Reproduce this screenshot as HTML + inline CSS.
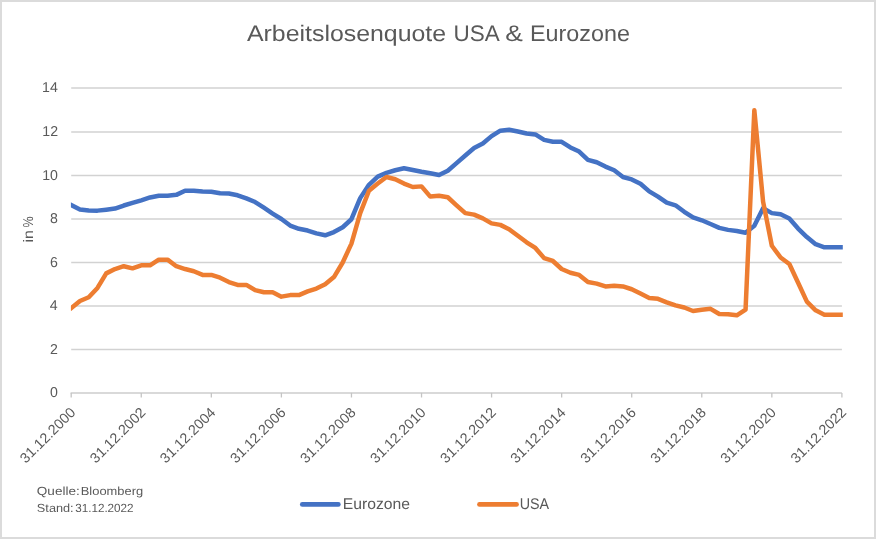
<!DOCTYPE html>
<html><head><meta charset="utf-8"><title>Arbeitslosenquote USA &amp; Eurozone</title>
<style>
html,body{margin:0;padding:0;background:#fff;}
body{width:876px;height:539px;overflow:hidden;font-family:"Liberation Sans",sans-serif;}
svg{display:block;will-change:transform;}
text{font-family:"Liberation Sans",sans-serif;fill:#595959;text-rendering:geometricPrecision;}
</style></head><body>
<svg width="876" height="539" viewBox="0 0 876 539">
<rect x="0" y="0" width="876" height="539" fill="#ffffff"/>
<rect x="1" y="1" width="874" height="537" fill="none" stroke="#DBDBDB" stroke-width="2"/>
<defs><clipPath id="pc"><rect x="70.9" y="60" width="771.9" height="340"/></clipPath></defs>

<line x1="71.2" y1="349.50" x2="841.9" y2="349.50" stroke="#D2D2D2" stroke-width="1.5"/>
<line x1="71.2" y1="306.00" x2="841.9" y2="306.00" stroke="#D2D2D2" stroke-width="1.5"/>
<line x1="71.2" y1="262.50" x2="841.9" y2="262.50" stroke="#D2D2D2" stroke-width="1.5"/>
<line x1="71.2" y1="219.00" x2="841.9" y2="219.00" stroke="#D2D2D2" stroke-width="1.5"/>
<line x1="71.2" y1="175.50" x2="841.9" y2="175.50" stroke="#D2D2D2" stroke-width="1.5"/>
<line x1="71.2" y1="132.00" x2="841.9" y2="132.00" stroke="#D2D2D2" stroke-width="1.5"/>
<line x1="71.2" y1="87.90" x2="841.9" y2="87.90" stroke="#D2D2D2" stroke-width="1.5"/>
<line x1="70.6" y1="392.90" x2="841.9" y2="392.90" stroke="#CDCDCD" stroke-width="1.5"/>
<line x1="71.20" y1="392.90" x2="71.20" y2="397.50" stroke="#C4C4C4" stroke-width="1.3"/>
<line x1="141.26" y1="392.90" x2="141.26" y2="397.50" stroke="#C4C4C4" stroke-width="1.3"/>
<line x1="211.33" y1="392.90" x2="211.33" y2="397.50" stroke="#C4C4C4" stroke-width="1.3"/>
<line x1="281.39" y1="392.90" x2="281.39" y2="397.50" stroke="#C4C4C4" stroke-width="1.3"/>
<line x1="351.45" y1="392.90" x2="351.45" y2="397.50" stroke="#C4C4C4" stroke-width="1.3"/>
<line x1="421.52" y1="392.90" x2="421.52" y2="397.50" stroke="#C4C4C4" stroke-width="1.3"/>
<line x1="491.58" y1="392.90" x2="491.58" y2="397.50" stroke="#C4C4C4" stroke-width="1.3"/>
<line x1="561.65" y1="392.90" x2="561.65" y2="397.50" stroke="#C4C4C4" stroke-width="1.3"/>
<line x1="631.71" y1="392.90" x2="631.71" y2="397.50" stroke="#C4C4C4" stroke-width="1.3"/>
<line x1="701.77" y1="392.90" x2="701.77" y2="397.50" stroke="#C4C4C4" stroke-width="1.3"/>
<line x1="771.84" y1="392.90" x2="771.84" y2="397.50" stroke="#C4C4C4" stroke-width="1.3"/>
<line x1="841.90" y1="392.90" x2="841.90" y2="397.50" stroke="#C4C4C4" stroke-width="1.3"/>
<text transform="translate(49.94,397.20) scale(0.9900,1)" font-size="14.30" xml:space="preserve">0</text>
<text transform="translate(50.08,353.80) scale(0.9900,1)" font-size="14.30" xml:space="preserve">2</text>
<text transform="translate(49.80,310.30) scale(0.9900,1)" font-size="14.30" xml:space="preserve">4</text>
<text transform="translate(50.08,266.80) scale(0.9900,1)" font-size="14.30" xml:space="preserve">6</text>
<text transform="translate(50.08,223.30) scale(0.9900,1)" font-size="14.30" xml:space="preserve">8</text>
<text transform="translate(42.15,179.80) scale(0.9900,1)" font-size="14.30" xml:space="preserve">10</text>
<text transform="translate(42.29,136.30) scale(0.9900,1)" font-size="14.30" xml:space="preserve">12</text>
<text transform="translate(42.01,92.20) scale(0.9900,1)" font-size="14.30" xml:space="preserve">14</text>
<text transform="translate(75.90,413.80) rotate(-45) translate(-70.97,0.00) scale(1.0006,1)" font-size="14.30" xml:space="preserve">31.12.2000</text>
<text transform="translate(145.96,413.80) rotate(-45) translate(-70.97,0.00) scale(1.0027,1)" font-size="14.30" xml:space="preserve">31.12.2002</text>
<text transform="translate(216.03,413.80) rotate(-45) translate(-70.97,0.00) scale(0.9986,1)" font-size="14.30" xml:space="preserve">31.12.2004</text>
<text transform="translate(286.09,413.80) rotate(-45) translate(-70.97,0.00) scale(1.0006,1)" font-size="14.30" xml:space="preserve">31.12.2006</text>
<text transform="translate(356.15,413.80) rotate(-45) translate(-70.97,0.00) scale(1.0006,1)" font-size="14.30" xml:space="preserve">31.12.2008</text>
<text transform="translate(426.22,413.80) rotate(-45) translate(-70.97,0.00) scale(1.0006,1)" font-size="14.30" xml:space="preserve">31.12.2010</text>
<text transform="translate(496.28,413.80) rotate(-45) translate(-70.97,0.00) scale(1.0027,1)" font-size="14.30" xml:space="preserve">31.12.2012</text>
<text transform="translate(566.35,413.80) rotate(-45) translate(-70.97,0.00) scale(0.9986,1)" font-size="14.30" xml:space="preserve">31.12.2014</text>
<text transform="translate(636.41,413.80) rotate(-45) translate(-70.97,0.00) scale(1.0006,1)" font-size="14.30" xml:space="preserve">31.12.2016</text>
<text transform="translate(706.47,413.80) rotate(-45) translate(-70.97,0.00) scale(1.0006,1)" font-size="14.30" xml:space="preserve">31.12.2018</text>
<text transform="translate(776.54,413.80) rotate(-45) translate(-70.97,0.00) scale(1.0006,1)" font-size="14.30" xml:space="preserve">31.12.2020</text>
<text transform="translate(846.60,413.80) rotate(-45) translate(-70.97,0.00) scale(1.0027,1)" font-size="14.30" xml:space="preserve">31.12.2022</text>
<text transform="translate(32.7,241.4) rotate(-90) translate(-1.12,0.00) scale(1.1549,1)" font-size="13.80" xml:space="preserve">in</text>
<text transform="translate(32.7,241.4) rotate(-90) translate(13.80,0.00) scale(0.8720,1)" font-size="14.30" xml:space="preserve">%</text>
<text transform="translate(247.00,41.30) scale(1.1050,1)" font-size="22.50" xml:space="preserve">Arbeitslosenquote</text>
<text transform="translate(453.40,41.30) scale(0.9994,1)" font-size="22.50" xml:space="preserve">USA</text>
<text transform="translate(505.14,41.30) scale(1.1730,1)" font-size="22.50" xml:space="preserve">&amp;</text>
<text transform="translate(530.03,41.30) scale(1.0374,1)" font-size="22.50" xml:space="preserve">Eurozone</text>
<text transform="translate(36.82,495.30) scale(1.1495,1)" font-size="11.80" xml:space="preserve">Quelle:</text>
<text transform="translate(80.77,495.30) scale(1.0932,1)" font-size="11.80" xml:space="preserve">Bloomberg</text>
<text transform="translate(36.86,511.80) scale(1.0786,1)" font-size="11.80" xml:space="preserve">Stand:</text>
<text transform="translate(75.13,511.80) scale(0.9907,1)" font-size="11.80" xml:space="preserve">31.12.2022</text>
<line x1="302.3" y1="504.4" x2="338.3" y2="504.4" stroke="#4472C4" stroke-width="4.8" stroke-linecap="round"/>
<text transform="translate(342.74,509.30) scale(1.0127,1)" font-size="15.50" xml:space="preserve">Eurozone</text>
<line x1="479.5" y1="504.4" x2="516.5" y2="504.4" stroke="#ED7D31" stroke-width="4.8" stroke-linecap="round"/>
<text transform="translate(519.65,509.30) scale(0.9235,1)" font-size="15.50" xml:space="preserve">USA</text>
<polyline points="71.20,205.08 79.96,209.43 88.72,210.52 97.47,210.63 106.23,209.65 114.99,208.56 123.75,205.52 132.51,202.91 141.26,200.30 150.02,197.47 158.78,195.73 167.54,195.73 176.30,194.86 185.05,190.72 193.81,190.72 202.57,191.59 211.33,191.81 220.09,193.34 228.84,193.55 237.60,195.29 246.36,198.34 255.12,202.04 263.88,207.69 272.63,213.56 281.39,219.00 290.15,225.53 298.91,228.79 307.66,230.53 316.42,233.35 325.18,235.31 333.94,232.05 342.70,227.26 351.45,219.22 360.21,198.12 368.97,184.85 377.73,176.59 386.49,172.89 395.24,170.28 404.00,168.32 412.76,170.06 421.52,171.80 430.28,173.33 439.03,175.06 447.79,170.71 456.55,163.10 465.31,155.49 474.07,148.09 482.82,143.53 491.58,136.13 500.34,130.69 509.10,129.82 517.86,131.56 526.61,133.52 535.37,134.39 544.13,139.83 552.89,141.79 561.65,141.79 570.40,147.44 579.16,151.58 587.92,159.84 596.68,162.23 605.44,166.58 614.19,170.28 622.95,177.02 631.71,179.41 640.47,183.77 649.23,191.38 657.98,196.60 666.74,202.69 675.50,205.30 684.26,211.82 693.01,217.48 701.77,220.30 710.53,224.00 719.29,227.92 728.05,229.88 736.80,230.96 745.56,232.70 754.32,225.74 763.08,208.34 771.84,213.13 780.59,214.21 789.35,218.56 798.11,228.57 806.87,237.05 815.63,244.23 824.38,247.28 833.14,247.28 841.90,247.28" fill="none" stroke="#4472C4" stroke-width="4.5" stroke-linejoin="round" stroke-linecap="square" clip-path="url(#pc)"/>
<polyline points="71.20,308.18 79.96,301.00 88.72,297.30 97.47,287.95 106.23,273.38 114.99,269.02 123.75,266.20 132.51,268.37 141.26,265.33 150.02,265.33 158.78,259.67 167.54,259.67 176.30,266.20 185.05,269.02 193.81,271.20 202.57,274.90 211.33,274.90 220.09,277.73 228.84,282.07 237.60,284.90 246.36,284.90 255.12,290.12 263.88,292.30 272.63,292.30 281.39,296.65 290.15,295.12 298.91,295.12 307.66,291.43 316.42,288.60 325.18,284.25 333.94,277.07 342.70,262.50 351.45,243.58 360.21,213.13 368.97,190.72 377.73,183.55 386.49,177.02 395.24,179.20 404.00,183.55 412.76,187.03 421.52,186.38 430.28,196.60 439.03,195.73 447.79,197.25 456.55,205.30 465.31,213.13 474.07,214.65 482.82,218.35 491.58,223.35 500.34,224.87 509.10,229.22 517.86,235.75 526.61,242.27 535.37,247.93 544.13,258.15 552.89,260.98 561.65,269.02 570.40,272.72 579.16,274.90 587.92,282.07 596.68,283.60 605.44,286.43 614.19,285.77 622.95,286.43 631.71,289.25 640.47,293.60 649.23,297.95 657.98,298.82 666.74,302.30 675.50,305.35 684.26,307.52 693.01,311.00 701.77,309.70 710.53,308.83 719.29,314.05 728.05,314.26 736.80,315.35 745.56,309.70 754.32,110.25 763.08,201.60 771.84,245.75 780.59,257.50 789.35,264.02 798.11,282.73 806.87,301.65 815.63,310.35 824.38,314.70 833.14,314.70 841.90,314.70" fill="none" stroke="#ED7D31" stroke-width="4.5" stroke-linejoin="round" stroke-linecap="square" clip-path="url(#pc)"/>
</svg></body></html>
